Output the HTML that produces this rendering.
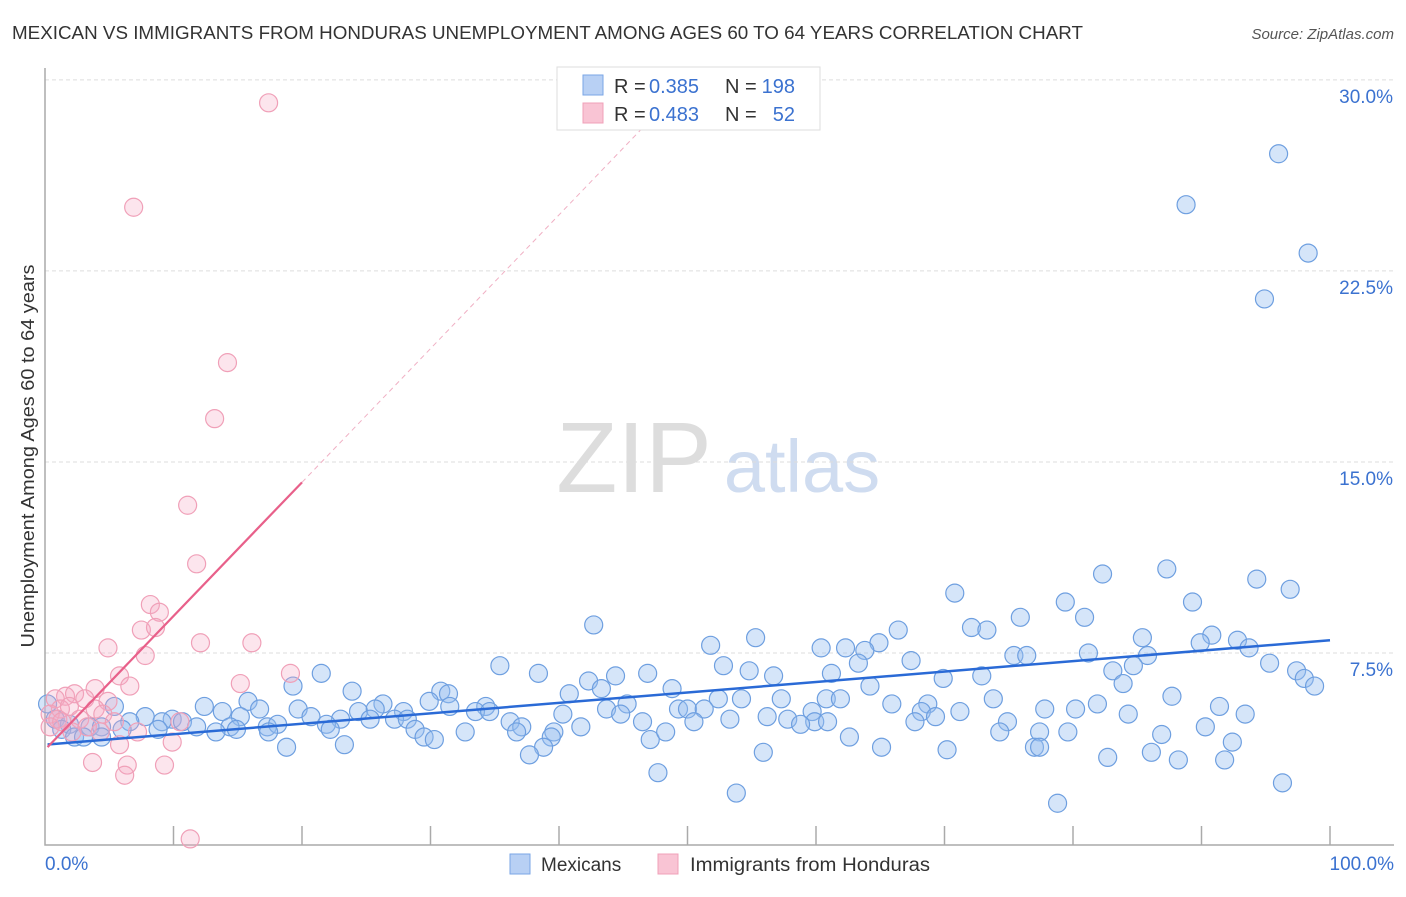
<!DOCTYPE html>
<html><head><meta charset="utf-8"><style>
body{margin:0;background:#fff;font-family:"Liberation Sans",sans-serif}
svg text{font-family:"Liberation Sans",sans-serif}
</style></head><body>
<svg id="c" width="1406" height="892" xmlns="http://www.w3.org/2000/svg">
<text x="12" y="39" font-size="18" fill="#333" textLength="1071" lengthAdjust="spacingAndGlyphs">MEXICAN VS IMMIGRANTS FROM HONDURAS UNEMPLOYMENT AMONG AGES 60 TO 64 YEARS CORRELATION CHART</text>
<text x="1394" y="39" font-size="15" fill="#555" font-style="italic" text-anchor="end">Source: ZipAtlas.com</text>
<g>
<text x="634" y="492" font-size="100" fill="#ddd" text-anchor="middle" font-family="Liberation Serif">ZIP</text>
<text x="802" y="492" font-size="74" fill="#cfdcf0" text-anchor="middle">atlas</text>
</g>
<g id="grid"></g>
<g id="pts"></g>
<g id="trend"></g>
<text transform="translate(34,456) rotate(-90)" font-size="18" fill="#333" text-anchor="middle" textLength="383" lengthAdjust="spacingAndGlyphs">Unemployment Among Ages 60 to 64 years</text>
<text x="45" y="870" font-size="19" fill="#3b72d0">0.0%</text>
<text x="1394" y="870" font-size="19" fill="#3b72d0" text-anchor="end">100.0%</text>
<g>
<rect x="557" y="67" width="263" height="63" fill="#fff" stroke="#ddd"/>
<rect x="583" y="75" width="20" height="20" fill="#b8d0f4" stroke="#7aa6e6"/>
<rect x="583" y="103" width="20" height="20" fill="#f9c4d4" stroke="#f0a0b8"/>
<text x="614" y="93" font-size="20" fill="#333">R =</text>
<text x="649" y="93" font-size="20" fill="#3b72d0">0.385</text>
<text x="725" y="93" font-size="20" fill="#333">N =</text>
<text x="795" y="93" font-size="20" fill="#3b72d0" text-anchor="end">198</text>
<text x="614" y="121" font-size="20" fill="#333">R =</text>
<text x="649" y="121" font-size="20" fill="#3b72d0">0.483</text>
<text x="725" y="121" font-size="20" fill="#333">N =</text>
<text x="795" y="121" font-size="20" fill="#3b72d0" text-anchor="end">52</text>
</g>
<g>
<rect x="510" y="854" width="20" height="20" fill="#b8d0f4" stroke="#7aa6e6"/>
<text x="541" y="871" font-size="19" fill="#333">Mexicans</text>
<rect x="658" y="854" width="20" height="20" fill="#f9c4d4" stroke="#f0a0b8"/>
<text x="690" y="871" font-size="19" fill="#333" textLength="240" lengthAdjust="spacingAndGlyphs">Immigrants from Honduras</text>
</g>
</svg>
<script>
const yTicks=[7.5,15,22.5,30];
const yTickLabels=["7.5%","15.0%","22.5%","30.0%"];
const xTicks=[10,20,30,40,50,60,70,80,90,100];
const blueX=[96.0,88.8,98.3,94.9,82.3,87.3,94.3,96.9,70.8,79.4,89.3,75.9,80.9,42.7,72.1,73.3,66.4,55.3,85.4,90.8,92.8,51.8,60.4,62.3,64.9,89.9,93.7,63.8,75.4,76.4,81.2,85.8,35.4,52.8,54.8,63.3,67.4,83.1,84.7,95.3,97.4,21.5,38.4,46.9,56.7,61.2,69.9,72.9,83.9,98.0,98.8,44.4,42.3,19.3,23.9,30.8,43.3,48.8,64.2,40.8,31.4,52.4,54.2,57.3,60.8,61.9,87.7,26.3,15.8,12.4,16.7,29.9,31.5,34.3,45.3,65.9,68.7,73.8,77.8,80.2,81.9,91.4,0.2,5.4,19.7,24.4,25.7,27.9,33.5,43.7,49.3,50.0,51.3,56.2,59.7,71.2,68.2,84.3,93.4,7.8,9.9,13.8,15.2,20.7,23.0,25.3,27.2,34.6,40.3,44.8,46.5,50.5,53.3,57.8,59.9,69.3,67.7,74.9,90.3,0.8,1.9,3.5,6.6,9.1,10.7,14.4,17.3,18.1,21.9,28.2,36.2,37.1,41.7,58.8,60.9,1.3,4.4,6.0,8.8,11.8,13.3,14.9,22.2,28.8,32.7,36.7,39.6,74.3,86.9,2.3,3.0,4.4,17.4,29.5,30.3,39.4,47.1,48.3,62.6,77.4,79.6,92.4,23.3,38.8,18.8,65.1,70.2,77.0,77.4,86.1,55.9,37.7,82.7,88.2,91.8,47.7,96.3,53.8,78.8];
const blueY=[27.1,25.1,23.2,21.4,10.6,10.8,10.4,10.0,9.85,9.5,9.5,8.9,8.9,8.6,8.5,8.4,8.4,8.1,8.1,8.2,8.0,7.8,7.7,7.7,7.9,7.9,7.7,7.6,7.4,7.4,7.5,7.4,7.0,7.0,6.8,7.1,7.2,6.8,7.0,7.1,6.8,6.7,6.7,6.7,6.6,6.7,6.5,6.6,6.3,6.5,6.2,6.6,6.4,6.2,6.0,6.0,6.1,6.1,6.2,5.9,5.9,5.7,5.7,5.7,5.7,5.7,5.8,5.5,5.6,5.4,5.3,5.6,5.4,5.4,5.5,5.5,5.5,5.7,5.3,5.3,5.5,5.4,5.5,5.4,5.3,5.2,5.3,5.2,5.2,5.3,5.3,5.3,5.3,5.0,5.2,5.2,5.2,5.1,5.1,5.0,4.9,5.2,5.0,5.0,4.9,4.9,4.9,5.2,5.1,5.1,4.8,4.8,4.9,4.9,4.8,5.0,4.8,4.8,4.6,4.9,4.7,4.6,4.8,4.8,4.8,4.6,4.6,4.7,4.7,4.9,4.8,4.6,4.6,4.7,4.8,4.5,4.6,4.5,4.5,4.6,4.4,4.5,4.5,4.5,4.4,4.4,4.4,4.4,4.3,4.2,4.2,4.2,4.4,4.2,4.1,4.2,4.1,4.4,4.2,4.4,4.4,4.0,3.9,3.8,3.8,3.8,3.7,3.8,3.8,3.6,3.6,3.5,3.4,3.3,3.3,2.8,2.4,2.0,1.6];
const pinkX=[17.4,6.9,14.2,13.2,11.1,11.8,8.2,8.9,7.5,8.6,4.9,12.1,16.1,7.8,5.8,19.1,15.2,6.6,3.9,4.9,1.6,2.3,3.1,0.8,3.9,1.2,1.9,4.5,0.4,1.0,2.7,5.4,10.5,0.4,3.3,7.2,4.3,5.8,9.9,3.7,9.3,6.4,6.2,11.3,2.1,1.3];
const pinkY=[29.1,25.0,18.9,16.7,13.3,11.0,9.4,9.1,8.4,8.5,7.7,7.9,7.9,7.4,6.6,6.7,6.3,6.2,6.1,5.6,5.8,5.9,5.7,5.7,5.3,5.3,5.4,5.1,5.1,4.9,4.9,4.8,4.8,4.6,4.6,4.4,4.4,3.9,4.0,3.2,3.1,3.1,2.7,0.2,4.4,4.8];
const blueTrend=[3.9,0.041]; // intercept, slope
const pinkTrend=[3.7,0.525];
const NS="http://www.w3.org/2000/svg";
const X=v=>45+v*12.85, Y=v=>844-v*25.47;
function mk(t,a,p){const e=document.createElementNS(NS,t);for(const k in a)e.setAttribute(k,a[k]);p.appendChild(e);return e;}
const grid=document.getElementById('grid');
yTicks.forEach((t,i)=>{
 const l=mk('line',{x1:45,x2:1394,y1:Y(t),y2:Y(t),stroke:'#ddd','stroke-dasharray':'4,3'},grid);
 
 
 const tx=mk('text',{x:1393,y:Y(t)+23,'font-size':19,fill:'#3b72d0','text-anchor':'end'},grid);
 tx.textContent=yTickLabels[i];
 
 
});
const ax=mk('path',{d:'M45,68V845H1394',fill:'none',stroke:'#aaa','stroke-width':1.5},grid);


xTicks.forEach(t=>{
 const l=mk('line',{x1:X(t),x2:X(t),y1:826,y2:845,stroke:'#aaa','stroke-width':1.5},grid);
 
 
});
const pts=document.getElementById('pts');
blueX.forEach((x,i)=>{
 const c=mk('circle',{cx:X(x),cy:Y(blueY[i]),r:9,fill:'rgba(150,190,240,0.4)',stroke:'#6e9fe0','stroke-width':1.2},pts);
 
 
});
pinkX.forEach((x,i)=>{
 const c=mk('circle',{cx:X(x),cy:Y(pinkY[i]),r:9,fill:'rgba(245,170,195,0.3)',stroke:'#f0a0b8','stroke-width':1.2},pts);
 
 
});
const tr=document.getElementById('trend');
const bl=mk('line',{x1:X(0.2),y1:Y(blueTrend[0]+blueTrend[1]*0.2),x2:X(100),y2:Y(blueTrend[0]+blueTrend[1]*100),stroke:'#2a6ad6','stroke-width':2.5},tr);


const pl=mk('line',{x1:X(0.2),y1:Y(pinkTrend[0]+pinkTrend[1]*0.2),x2:X(20),y2:Y(pinkTrend[0]+pinkTrend[1]*20),stroke:'#e8608a','stroke-width':2.2},tr);


const xe=(30.3-pinkTrend[0])/pinkTrend[1];
const pd=mk('line',{x1:X(20),y1:Y(pinkTrend[0]+pinkTrend[1]*20),x2:X(xe),y2:Y(30.3),stroke:'#f0b0c4','stroke-width':1,'stroke-dasharray':'5,4'},tr);


</script>
</body></html>
